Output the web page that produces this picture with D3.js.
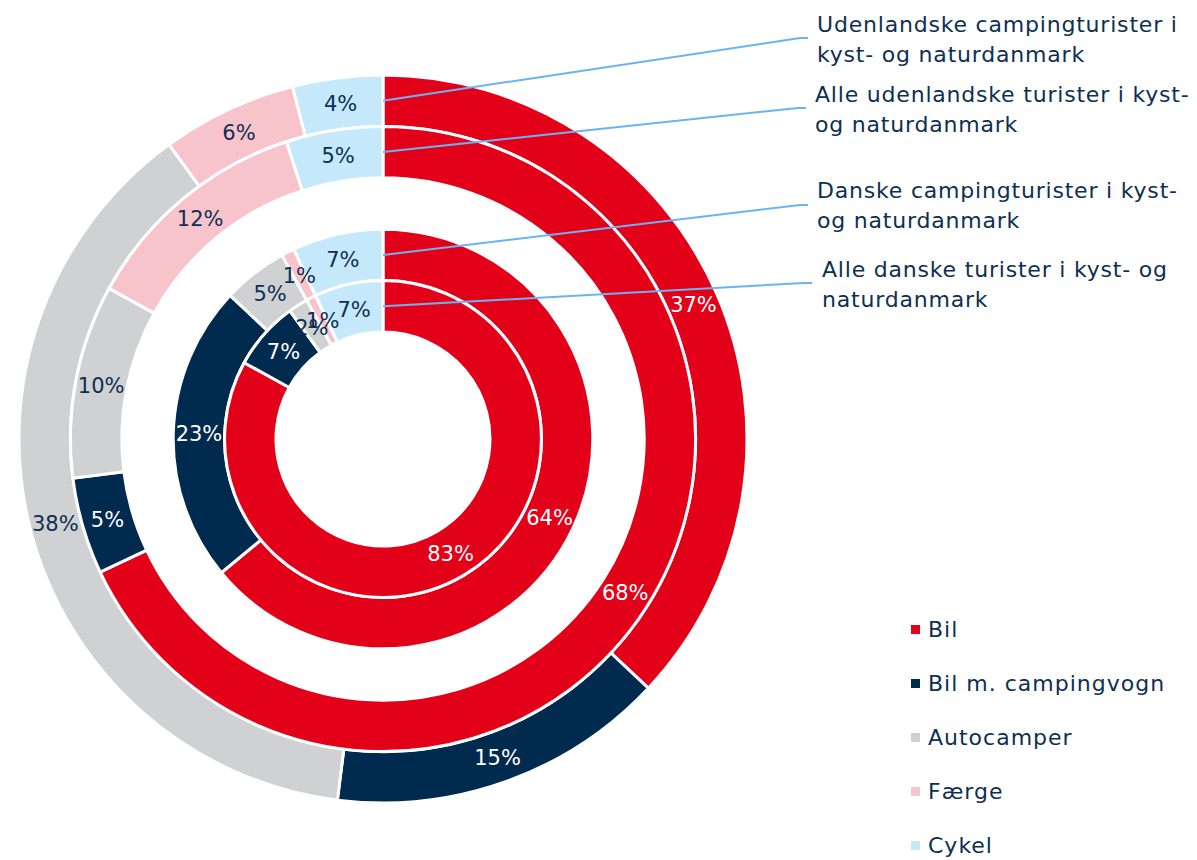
<!DOCTYPE html>
<html>
  <head>
    <meta charset="utf-8">
    <title>Transportmiddel - kyst- og naturdanmark</title>
    <script src="https://d3js.org/d3.v7.min.js"></script>
    <style>
      body { margin: 0; background: #ffffff; }
      text { font-family: "DejaVu Sans", sans-serif; }
    </style>
  </head>
  <body>
    <svg width="1197" height="860"></svg>
    <script>
      // kategorier (rækkefølge = rækkefølge i ringene, med uret fra kl. 12)
      var categories = ["Bil", "Bil m. campingvogn", "Autocamper", "Færge", "Cykel"];

      // en serie pr. ring, yderst -> inderst
      var udenlandskeCamping = [37, 15, 38, 6, 4];
      var alleUdenlandske = [68, 5, 10, 12, 5];
      var danskeCamping = [64, 23, 5, 1, 7];
      var alleDanske = [83, 7, 2, 1, 7];

      var seriesLabels = [
        ["Udenlandske campingturister i", "kyst- og naturdanmark"],
        ["Alle udenlandske turister i kyst-", "og naturdanmark"],
        ["Danske campingturister i kyst-", "og naturdanmark"],
        ["Alle danske turister i kyst- og", "naturdanmark"]
      ];

      var colors = ["#E30019", "#002A4E", "#CFD1D2", "#F8C4CC", "#C5E9FB"];
      var textDark = "#0E2F52";

      // ring-plads 2 er tom (hul mellem udenlandske og danske)
      var rings = [
        { values: udenlandskeCamping, slot: 0, label: seriesLabels[0], lx: 817, ly: 32, ex: 808, ey: 38 },
        { values: alleUdenlandske,    slot: 1, label: seriesLabels[1], lx: 815, ly: 102, ex: 806, ey: 108 },
        { values: danskeCamping,      slot: 3, label: seriesLabels[2], lx: 817, ly: 198, ex: 808, ey: 205 },
        { values: alleDanske,         slot: 4, label: seriesLabels[3], lx: 822, ly: 277, ex: 812, ey: 283 }
      ];

      var cx = 383, cy = 439;

      var svg = d3.select("svg");
      var g = svg.append("g").attr("transform", "translate(" + cx + "," + cy + ")");

      var rScale = d3.scaleLinear().domain([0, 5]).range([364, 107]);
      var color = d3.scaleOrdinal().domain(categories).range(colors);

      var pie = d3.pie().sort(null).value(function(d) { return d; });

      rings.forEach(function(ring) {
        var arc = d3.arc()
            .outerRadius(rScale(ring.slot))
            .innerRadius(rScale(ring.slot + 1));

        var arcs = pie(ring.values);

        g.append("g").selectAll("path")
          .data(arcs)
          .enter()
          .append("path")
          .attr("d", arc)
          .attr("fill", function(d, i) { return color(categories[i]); })
          .attr("stroke", "#ffffff")
          .attr("stroke-width", 3);

        g.append("g").selectAll("text")
          .data(arcs)
          .enter()
          .append("text")
          .attr("transform", function(d) { return "translate(" + arc.centroid(d) + ")"; })
          .attr("text-anchor", "middle")
          .attr("dy", "0.36em")
          .attr("fill", function(d, i) { return i < 2 ? "#ffffff" : textDark; })
          .style("font-size", "21px")
          .text(function(d) { return d.data + "%"; });
      });

      // serienavne med forbindelseslinjer
      rings.forEach(function(ring) {
        var midR = (rScale(ring.slot) + rScale(ring.slot + 1)) / 2;
        svg.append("polyline")
          .attr("points", [[cx, cy - midR], [ring.ex - 8, ring.ey], [ring.ex, ring.ey]].join(" "))
          .attr("fill", "none")
          .attr("stroke", "#6BB3F1")
          .attr("stroke-width", 2);

        var t = svg.append("text")
          .attr("x", ring.lx)
          .attr("y", ring.ly)
          .attr("fill", textDark)
          .style("font-size", "22px")
          .style("letter-spacing", "0.8px");
        t.selectAll("tspan")
          .data(ring.label)
          .enter()
          .append("tspan")
          .attr("x", ring.lx)
          .attr("dy", function(d, i) { return i === 0 ? 0 : 30; })
          .text(function(d) { return d; });
      });

      // forklaring
      var legend = svg.append("g").selectAll("g")
          .data(categories)
          .enter()
          .append("g")
          .attr("transform", function(d, i) { return "translate(911," + (637 + i * 54) + ")"; });

      legend.append("rect")
          .attr("x", 0)
          .attr("y", -12)
          .attr("width", 9)
          .attr("height", 9)
          .attr("fill", function(d) { return color(d); });

      legend.append("text")
          .attr("x", 17)
          .attr("y", 0)
          .attr("fill", textDark)
          .style("font-size", "22px")
          .style("letter-spacing", "1px")
          .text(function(d) { return d; });
    </script>
  </body>
</html>
